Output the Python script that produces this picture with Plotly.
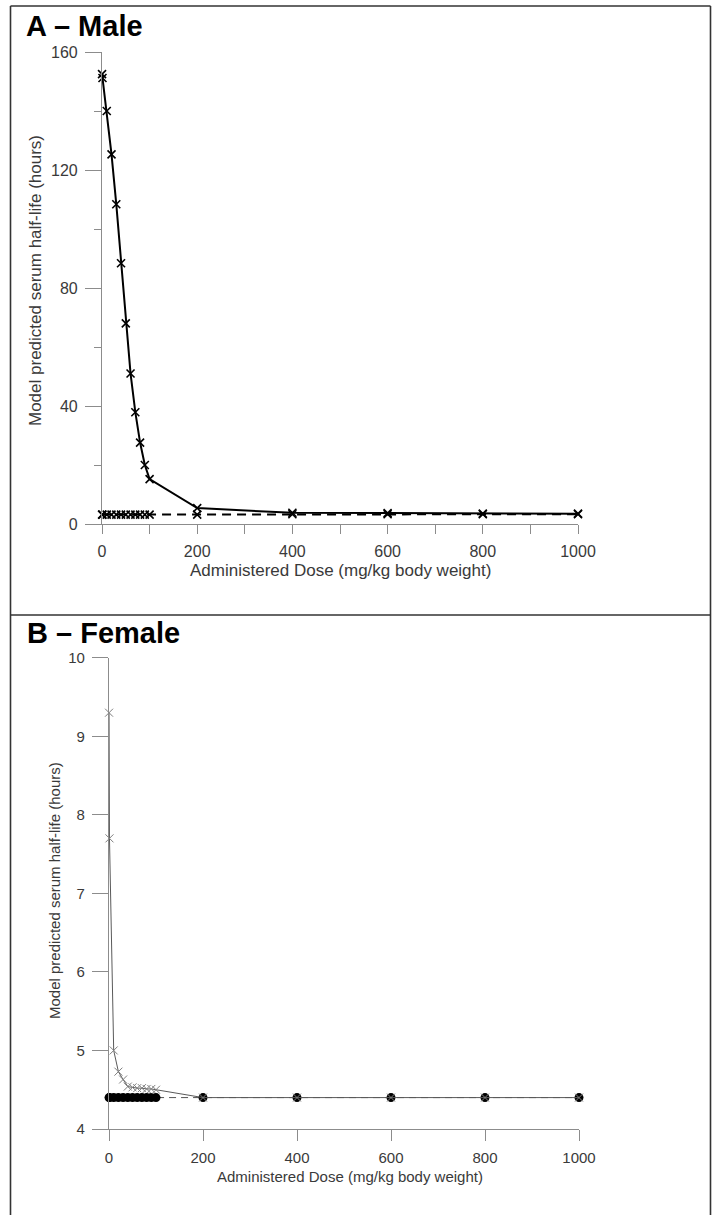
import plotly.graph_objects as go

W, H = 712, 1215

# ---------------- data ----------------
dose = [0.1, 1, 10, 20, 30, 40, 50, 60, 70, 80, 90, 100, 200, 400, 600, 800, 1000]

male_solid = [152.5, 151.2, 140, 125.3, 108.4, 88.4, 68, 51, 37.9, 27.6, 20, 15.2, 5.4, 3.8, 3.7, 3.5, 3.5]
male_dashed = [3.2, 3.2, 3.2, 3.2, 3.2, 3.2, 3.2, 3.2, 3.2, 3.2, 3.2, 3.2, 3.2, 3.3, 3.3, 3.3, 3.3]

female_solid = [9.3, 7.7, 5.0, 4.73, 4.63, 4.54, 4.53, 4.52, 4.52, 4.51, 4.51, 4.5, 4.4, 4.4, 4.4, 4.4, 4.4]
female_dashed = [4.4, 4.4, 4.4, 4.4, 4.4, 4.4, 4.4, 4.4, 4.4, 4.4, 4.4, 4.4, 4.4, 4.4, 4.4, 4.4, 4.4]

x_ticks_a = [0, 200, 400, 600, 800, 1000]
y_ticks_a = [0, 40, 80, 120, 160]
x_ticks_b = [0, 200, 400, 600, 800, 1000]
y_ticks_b = [4, 5, 6, 7, 8, 9, 10]

title_a = "A \u2013 Male"
title_b = "B \u2013 Female"
xlabel = "Administered Dose (mg/kg body weight)"
ylabel = "Model predicted serum half-life (hours)"


def px(x):
    return x / W


def py(y):
    return 1 - y / H


FONT = "Liberation Sans, Arial, Helvetica, sans-serif"
AXIS_GREY = "#8c8c8c"
TEXT_GREY = "#3a3a3a"

fig = go.Figure()

# Panel A
fig.add_trace(go.Scatter(
    x=dose, y=male_dashed, mode="lines+markers", xaxis="x", yaxis="y",
    line=dict(color="black", width=2, dash="9px,6px"),
    marker=dict(symbol="x-thin", size=8, line=dict(width=1.6, color="black")),
    cliponaxis=False, showlegend=False))
fig.add_trace(go.Scatter(
    x=dose, y=male_solid, mode="lines+markers", xaxis="x", yaxis="y",
    line=dict(color="black", width=2),
    marker=dict(symbol="x-thin", size=8, line=dict(width=1.6, color="black")),
    cliponaxis=False, showlegend=False))

# Panel B
fig.add_trace(go.Scatter(
    x=dose, y=female_dashed, mode="lines+markers", xaxis="x2", yaxis="y2",
    line=dict(color="#555555", width=1, dash="7px,5px"),
    marker=dict(symbol="circle", size=9, color="black"),
    cliponaxis=False, showlegend=False))
fig.add_trace(go.Scatter(
    x=dose, y=female_solid, mode="lines+markers", xaxis="x2", yaxis="y2",
    line=dict(color="#5a5a5a", width=1),
    marker=dict(symbol="x-thin", size=8, line=dict(width=1, color="#808080")),
    cliponaxis=False, showlegend=False))

axis_common = dict(
    showline=True, linecolor=AXIS_GREY, linewidth=1.2,
    ticks="outside", tickcolor=AXIS_GREY, tickwidth=1.2,
    showgrid=False, zeroline=False, automargin=False,
    tickfont=dict(family=FONT, size=16, color=TEXT_GREY),
)

fig.update_layout(
    template="none",
    width=W, height=H,
    margin=dict(l=0, r=0, t=0, b=0, pad=0, autoexpand=False),
    paper_bgcolor="white", plot_bgcolor="white",
    xaxis=dict(domain=[px(102), px(578)], anchor="y", range=[0, 1000],
               tickvals=x_ticks_a, ticklen=9, ticklabelstandoff=4,
               minor=dict(dtick=100, tick0=0, ticks="outside", ticklen=9,
                          tickcolor=AXIS_GREY, tickwidth=1.2, showgrid=False),
               **axis_common),
    yaxis=dict(domain=[py(524), py(52)], anchor="x", range=[0, 160],
               tickvals=y_ticks_a, ticklen=16, ticklabelstandoff=4,
               minor=dict(dtick=20, tick0=0, ticks="outside", ticklen=7,
                          tickcolor=AXIS_GREY, tickwidth=1.2, showgrid=False),
               **axis_common),
    xaxis2=dict(domain=[px(109), px(579)], anchor="y2", range=[0, 1000],
                tickvals=x_ticks_b, ticklen=11, ticklabelstandoff=4,
                **{**axis_common, "tickfont": dict(family=FONT, size=15, color=TEXT_GREY)}),
    yaxis2=dict(domain=[py(1129), py(657.7)], anchor="x2", range=[4, 10],
                tickvals=y_ticks_b, ticklen=16, ticklabelstandoff=4,
                **{**axis_common, "tickfont": dict(family=FONT, size=15, color=TEXT_GREY)}),
)

annotations = [
    dict(text=f"<b>{title_a}</b>", x=px(24), y=py(26), xanchor="left", yanchor="middle",
         font=dict(family=FONT, size=29, color="black")),
    dict(text=f"<b>{title_b}</b>", x=px(25), y=py(633), xanchor="left", yanchor="middle",
         font=dict(family=FONT, size=29, color="black")),
    dict(text=xlabel, x=px(340), y=py(571), xanchor="center", yanchor="middle",
         font=dict(family=FONT, size=17, color=TEXT_GREY)),
    dict(text=ylabel, x=px(35), y=py(281), xanchor="center", yanchor="middle", textangle=-90,
         font=dict(family=FONT, size=17, color=TEXT_GREY)),
    dict(text=xlabel, x=px(350), y=py(1176), xanchor="center", yanchor="middle",
         font=dict(family=FONT, size=15, color=TEXT_GREY)),
    dict(text=ylabel, x=px(55), y=py(891), xanchor="center", yanchor="middle", textangle=-90,
         font=dict(family=FONT, size=15, color=TEXT_GREY)),
]
for a in annotations:
    a.update(xref="paper", yref="paper", showarrow=False)
fig.update_layout(annotations=annotations)

BORDER = dict(color="#333333", width=1.6)
shapes = [
    dict(type="line", x0=px(10.5), x1=px(710.5), y0=py(6), y1=py(6)),
    dict(type="line", x0=px(10.5), x1=px(710.5), y0=py(615), y1=py(615)),
    dict(type="line", x0=px(10.5), x1=px(10.5), y0=py(6), y1=py(1215)),
    dict(type="line", x0=px(710.5), x1=px(710.5), y0=py(6), y1=py(1215)),
]
for s in shapes:
    s.update(xref="paper", yref="paper", line=BORDER)
fig.update_layout(shapes=shapes)

fig.write_html(
    "out.html",
    config={"displayModeBar": False},
    post_script="document.body.style.margin='0';document.body.style.overflow='hidden';",
)
